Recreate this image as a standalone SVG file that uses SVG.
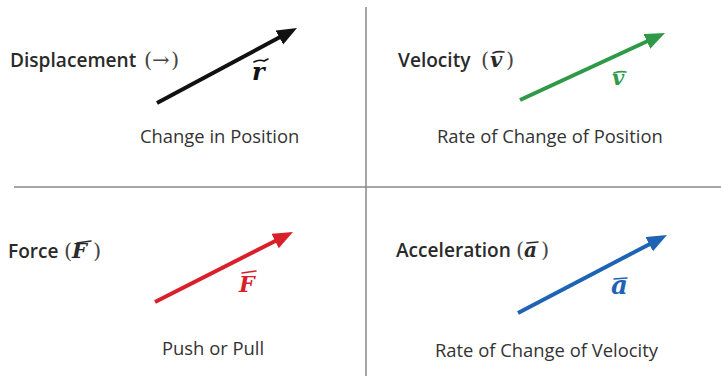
<svg xmlns="http://www.w3.org/2000/svg" width="721" height="376" viewBox="0 0 721 376">
<style>
.h{font-family:"Open Sans","Liberation Sans",sans-serif;font-weight:600;font-size:19.1px;fill:#2a2a2a}
.d{font-family:"Open Sans","Liberation Sans",sans-serif;font-size:18.4px;fill:#333}
.m{font-family:"DejaVu Serif","Liberation Serif",serif;font-weight:bold;font-style:italic}
.p{font-family:"DejaVu Serif","Liberation Serif",serif;font-weight:400;font-size:21px;fill:#444}
.grid{stroke:#888;stroke-width:1.5;fill:none}
.acc{fill:none;stroke-width:1.6;stroke-linecap:round}
</style>
<defs>
<marker id="hk" markerUnits="userSpaceOnUse" markerWidth="22" markerHeight="18" refX="4" refY="8" orient="auto"><path d="M0,0 L20,8 L0,16 z" fill="#111"/></marker>
<marker id="hg" markerUnits="userSpaceOnUse" markerWidth="22" markerHeight="18" refX="4" refY="8" orient="auto"><path d="M0,0 L20,8 L0,16 z" fill="#2e9a47"/></marker>
<marker id="hr" markerUnits="userSpaceOnUse" markerWidth="22" markerHeight="18" refX="4" refY="8" orient="auto"><path d="M0,0 L20,8 L0,16 z" fill="#d81f2a"/></marker>
<marker id="hb" markerUnits="userSpaceOnUse" markerWidth="22" markerHeight="18" refX="4" refY="8" orient="auto"><path d="M0,0 L20,8 L0,16 z" fill="#1f64b4"/></marker>
</defs>
<rect width="721" height="376" fill="#fff"/>
<g id="grid">
<line class="grid" x1="366" y1="7" x2="366" y2="376"/>
<line class="grid" x1="14" y1="187" x2="721" y2="187"/>
</g>
<g id="displacement">
<text class="h" x="10" y="67">Displacement <tspan class="p" x="144">(</tspan><tspan class="p" x="152" font-size="18">→</tspan><tspan class="p" x="171">)</tspan></text>
<text class="m" x="252" y="80" font-size="24" fill="#111">r</text>
<path class="acc" stroke="#111" d="M254,62 Q259,59 264,61 L268,59"/>
<text class="d" x="140" y="143">Change in Position</text>
</g>
<g id="velocity">
<text class="h" x="398" y="67">Velocity <tspan class="p" x="481">(</tspan><tspan class="m" x="490" font-size="21">v</tspan><tspan class="p" x="506">)</tspan></text>
<path class="acc" stroke="#2a2a2a" d="M493,53 Q498,51 504,52"/>
<text class="m" x="612" y="85" font-size="21" fill="#2e9a47">v</text>
<path class="acc" stroke="#2e9a47" d="M614,73 Q620,71 626,72"/>
<text class="d" x="437" y="143">Rate of Change of Position</text>
</g>
<g id="force">
<text class="h" x="8" y="258">Force <tspan class="p" x="64">(</tspan><tspan class="m" x="72" font-size="21">F</tspan><tspan class="p" x="93">)</tspan></text>
<path class="acc" stroke="#2a2a2a" d="M77,243 L91,241"/>
<text class="m" x="239" y="292" font-size="22" fill="#d81f2a">F</text>
<path class="acc" stroke="#d81f2a" d="M242,273 L256,271"/>
<text class="d" x="162" y="355">Push or Pull</text>
</g>
<g id="acceleration">
<text class="h" x="396" y="257">Acceleration <tspan class="p" x="516">(</tspan><tspan class="m" x="524" font-size="20">a</tspan><tspan class="p" x="541">)</tspan></text>
<path class="acc" stroke="#2a2a2a" d="M527,243 L538,242"/>
<text class="m" x="611" y="294" font-size="26" fill="#1f64b4">a</text>
<path class="acc" stroke="#1f64b4" d="M614,279 L627,278"/>
<text class="d" x="435" y="357">Rate of Change of Velocity</text>
</g>
<g id="connectors" stroke-width="4" stroke-linecap="butt">
<line x1="157" y1="103" x2="282.9" y2="35.6" stroke="#111" marker-end="url(#hk)"/>
<line x1="520" y1="100" x2="650.5" y2="39.7" stroke="#2e9a47" marker-end="url(#hg)"/>
<line x1="155" y1="302" x2="278.7" y2="239.2" stroke="#d81f2a" marker-end="url(#hr)"/>
<line x1="518" y1="313" x2="652.8" y2="242.4" stroke="#1f64b4" marker-end="url(#hb)"/>
</g>
</svg>
